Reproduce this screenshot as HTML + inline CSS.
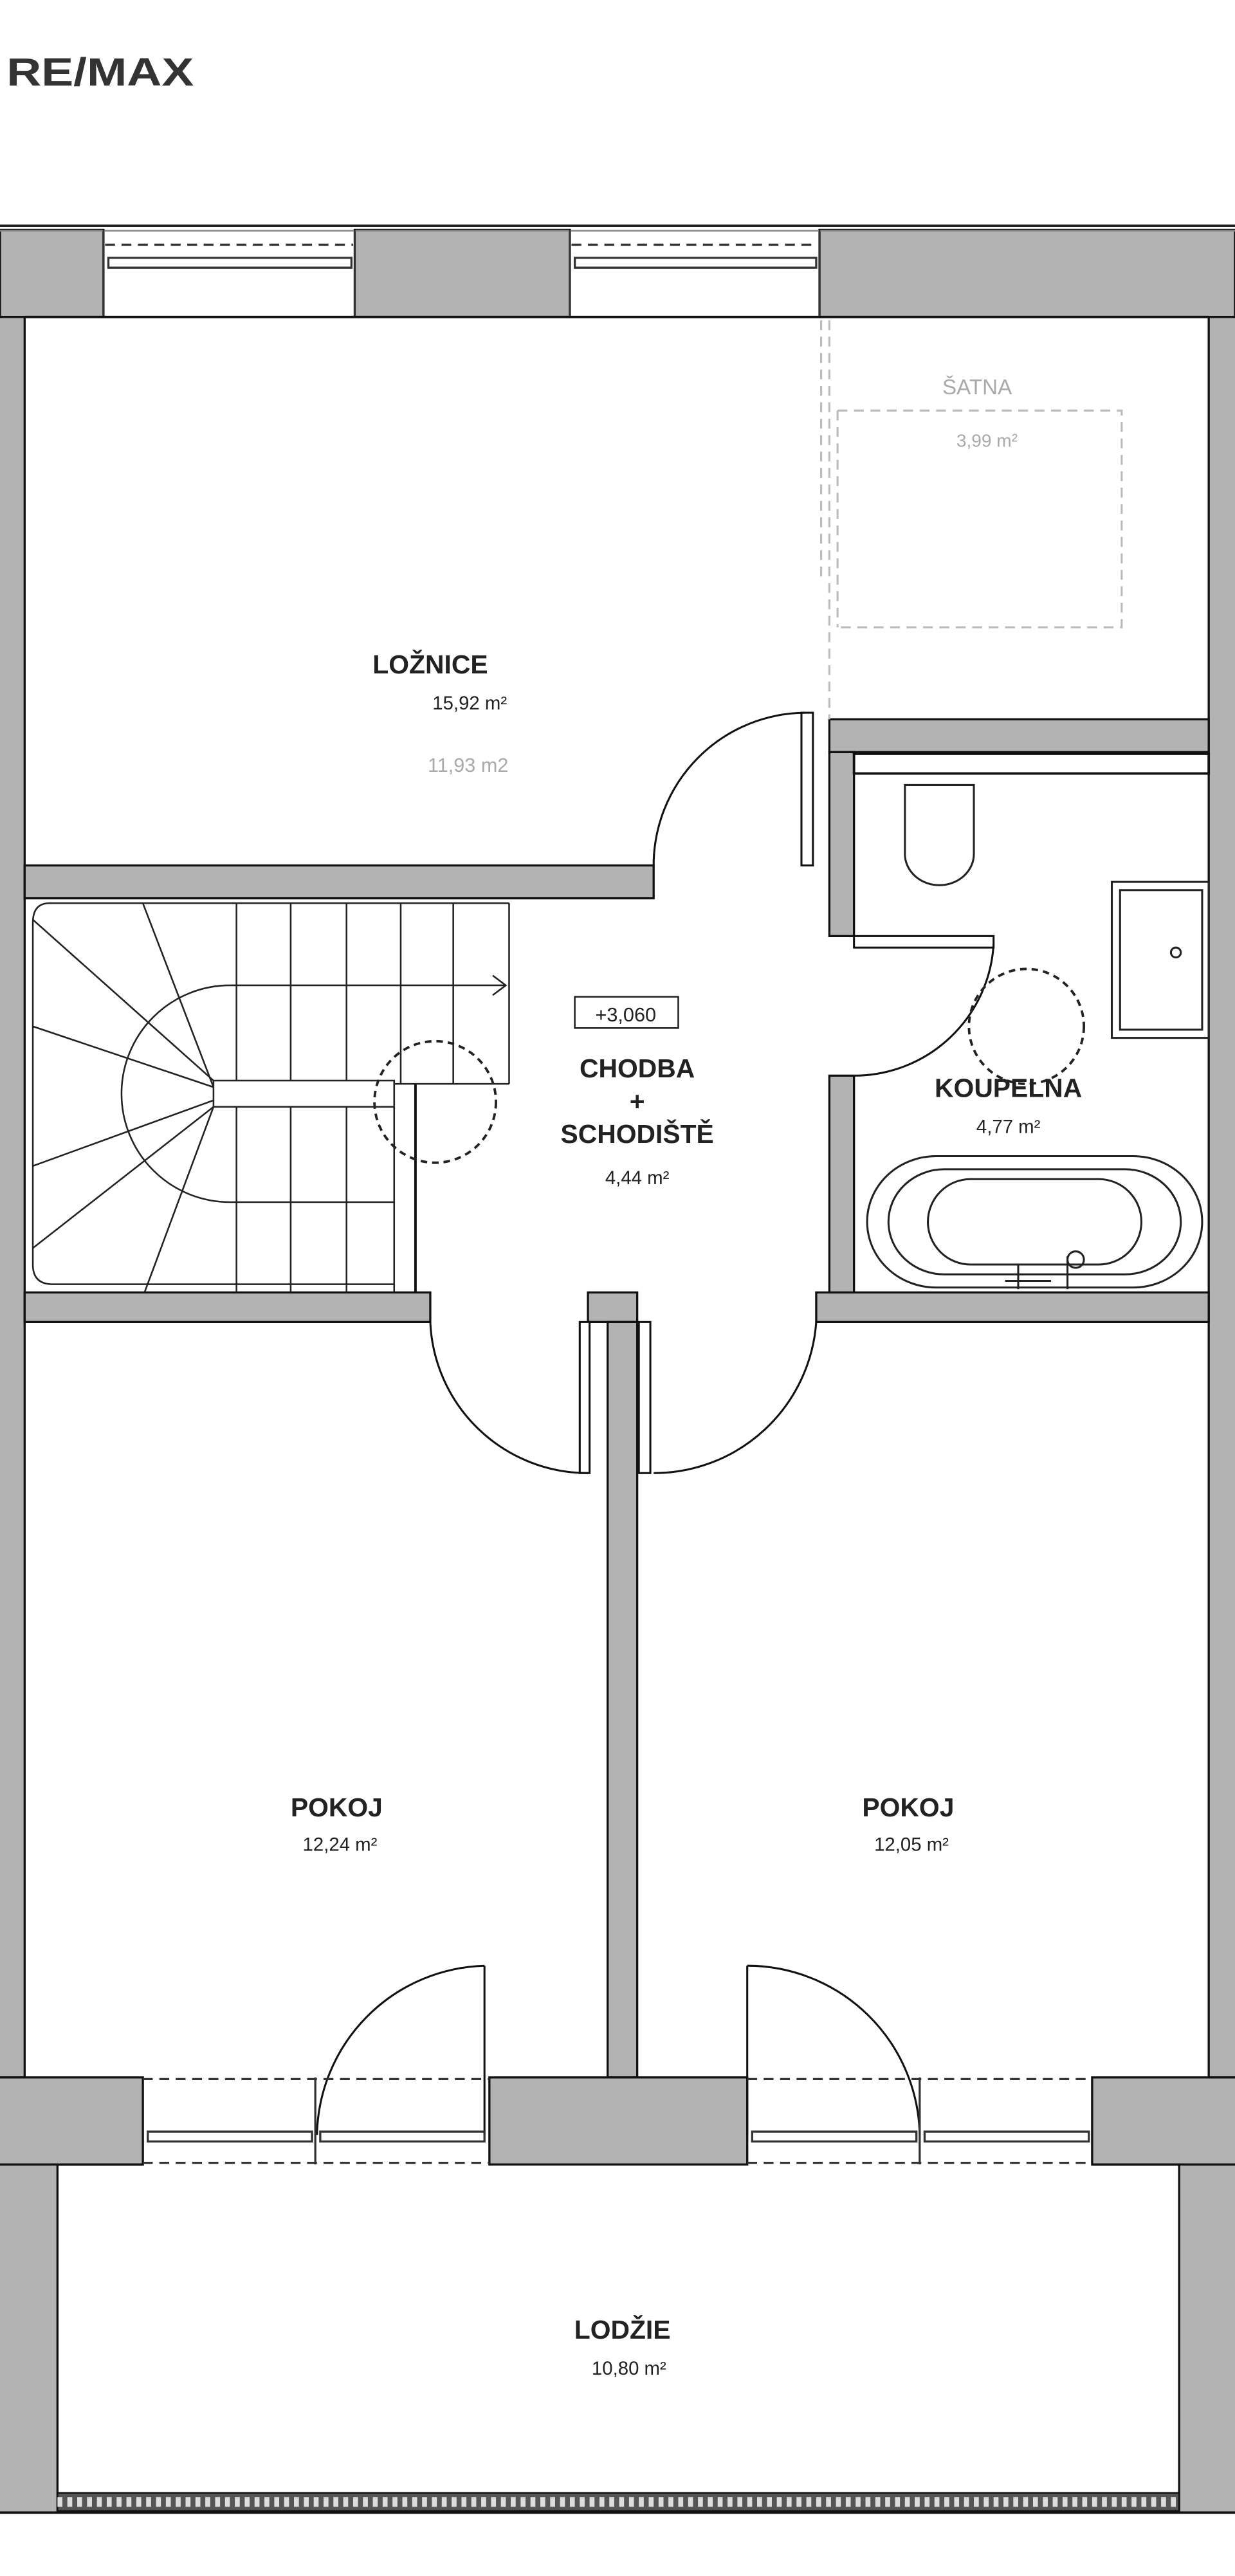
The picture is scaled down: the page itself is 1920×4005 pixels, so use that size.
<!DOCTYPE html>
<html><head><meta charset="utf-8"><style>
html,body{margin:0;padding:0;background:#fff}
svg{display:block}
text{font-family:"Liberation Sans",sans-serif}
</style></head><body>
<svg width="1920" height="4005" viewBox="0 0 752 1568.6" preserveAspectRatio="none" xmlns="http://www.w3.org/2000/svg">
<rect x="0" y="0" width="752" height="1568.6" fill="#fff"/>
<text x="4" y="52" font-size="24" font-weight="bold" fill="#333" textLength="114" lengthAdjust="spacingAndGlyphs">RE/MAX</text>

<g fill="#b3b3b3" stroke="#111" stroke-width="1.3">
<rect x="0" y="140" width="63" height="53"/>
<rect x="216" y="140" width="131" height="53"/>
<rect x="499" y="140" width="253" height="53"/>
<rect x="-2" y="193" width="17" height="1072"/>
<rect x="736" y="193" width="18" height="1072"/>
<rect x="15" y="527" width="383" height="20"/>
<rect x="15" y="787" width="247" height="18"/>
<rect x="358" y="787" width="30" height="18"/>
<rect x="497" y="787" width="239" height="18"/>
<rect x="370" y="805" width="18" height="460"/>
<rect x="505" y="438" width="231" height="20"/>
<rect x="505" y="458" width="15" height="112"/>
<rect x="505" y="655" width="15" height="132"/>
<rect x="-2" y="1265" width="89" height="53"/>
<rect x="298" y="1265" width="157" height="53"/>
<rect x="665" y="1265" width="89" height="53"/>
<rect x="-2" y="1318" width="37" height="212"/>
<rect x="718" y="1318" width="36" height="212"/>
</g>
<line x1="0" y1="137.5" x2="752" y2="137.5" stroke="#222" stroke-width="1.5"/>
<line x1="0" y1="140.5" x2="752" y2="140.5" stroke="#888" stroke-width="1"/>
<g stroke="#333" fill="none">
<line x1="64" y1="149" x2="215" y2="149" stroke-dasharray="6,4" stroke-width="1.3"/>
<line x1="348" y1="149" x2="498" y2="149" stroke-dasharray="6,4" stroke-width="1.3"/>
<rect x="66" y="157" width="148" height="6" stroke-width="1.3"/>
<rect x="350" y="157" width="147" height="6" stroke-width="1.3"/>
<line x1="63" y1="140" x2="63" y2="193"/><line x1="216" y1="140" x2="216" y2="193"/>
<line x1="347" y1="140" x2="347" y2="193"/><line x1="499" y1="140" x2="499" y2="193"/>
</g>

<g fill="none" stroke="#111" stroke-width="1.5">
<line x1="15" y1="193" x2="736" y2="193"/>
<rect x="520" y="459" width="216" height="12" fill="#fff"/>
<line x1="253" y1="660" x2="253" y2="787"/>
</g>

<g fill="none" stroke="#bbb" stroke-width="1.2" stroke-dasharray="6,4">
<line x1="500" y1="195" x2="500" y2="352"/>
<line x1="505" y1="195" x2="505" y2="438"/>
<polyline points="510,250 683,250 683,382 510,382"/>
<line x1="510" y1="250" x2="510" y2="382"/>
</g>
<text x="595" y="240" font-size="13" fill="#aaa" text-anchor="middle">ŠATNA</text>
<text x="601" y="272" font-size="11" fill="#aaa" text-anchor="middle">3,99 m²</text>

<text x="262" y="410" font-size="16" font-weight="bold" fill="#222" text-anchor="middle">LOŽNICE</text>
<text x="286" y="432" font-size="11.5" fill="#222" text-anchor="middle">15,92 m²</text>
<text x="285" y="470" font-size="12" fill="#aaa" text-anchor="middle">11,93 m2</text>

<g fill="none" stroke="#111" stroke-width="1.2">
<rect x="488" y="434" width="7" height="93" fill="#fff"/>
<path d="M490,434 A93,93 0 0 0 398,527"/>
<rect x="520" y="570" width="85" height="7" fill="#fff"/>
<path d="M605,575 A85,85 0 0 1 520,655"/>
<rect x="353" y="805" width="6" height="92" fill="#fff"/>
<path d="M262,805 A96,96 0 0 0 358,897"/>
<rect x="389" y="805" width="7" height="92" fill="#fff"/>
<path d="M497,805 A99,99 0 0 1 398,897"/>
<line x1="295" y1="1197" x2="295" y2="1300"/>
<path d="M295,1197 A105,105 0 0 0 193,1300"/>
<line x1="455" y1="1197" x2="455" y2="1300"/>
<path d="M455,1197 A105,105 0 0 1 560,1300"/>
</g>

<g fill="none" stroke="#222" stroke-width="1">
<path d="M310,550 L30,550 Q20,550 20,562 L20,770 Q20,782 32,782 L240,782"/>
<line x1="310" y1="550" x2="310" y2="660"/>
<line x1="240" y1="660" x2="310" y2="660"/>
<line x1="240" y1="660" x2="240" y2="787"/>
<line x1="144" y1="550" x2="144" y2="787"/><line x1="177" y1="550" x2="177" y2="787"/>
<line x1="211" y1="550" x2="211" y2="787"/><line x1="244" y1="550" x2="244" y2="660"/><line x1="276" y1="550" x2="276" y2="660"/>
<path d="M308,600 L140,600 A66,66 0 0 0 140,732 L240,732"/>
<path d="M300,594 L308,600 L300,606"/>
<rect x="130" y="658" width="110" height="16" fill="#fff"/>
<line x1="130" y1="658" x2="20" y2="560"/><line x1="130" y1="662" x2="87" y2="550"/>
<line x1="130" y1="662" x2="20" y2="625"/><line x1="130" y1="670" x2="20" y2="710"/>
<line x1="130" y1="674" x2="20" y2="760"/><line x1="130" y1="674" x2="88" y2="787"/>
<circle cx="265" cy="671" r="37" stroke-dasharray="4,3" stroke-width="1.5"/>
</g>

<rect x="350" y="607" width="63" height="19" fill="none" stroke="#222" stroke-width="1"/>
<text x="381" y="622" font-size="12" fill="#222" text-anchor="middle">+3,060</text>
<g font-size="16" font-weight="bold" fill="#222" text-anchor="middle">
<text x="388" y="656">CHODBA</text>
<text x="388" y="676">+</text>
<text x="388" y="696">SCHODIŠTĚ</text>
</g>
<text x="388" y="721" font-size="11.5" fill="#222" text-anchor="middle">4,44 m²</text>

<g fill="none" stroke="#222" stroke-width="1.2">
<path d="M551,478 L593,478 L593,520 A21,19 0 0 1 551,520 Z"/>
<rect x="677" y="537" width="59" height="95"/>
<rect x="682" y="542" width="50" height="85"/>
<circle cx="716" cy="580" r="3"/>
<path d="M570,704 L690,704 A42,40 0 0 1 690,784 L570,784 A42,40 0 0 1 570,704 Z"/>
<path d="M575,712 L685,712 A34,32 0 0 1 685,776 L575,776 A34,32 0 0 1 575,712 Z"/>
<rect x="565" y="718" width="130" height="52" rx="26"/>
<circle cx="625" cy="625" r="35" stroke-dasharray="4,3" stroke-width="1.5"/>
<path d="M620,770 L620,785 M612,780 L640,780 M650,765 L650,785"/>
<circle cx="655" cy="767" r="5"/>
</g>
<text x="614" y="668" font-size="16" font-weight="bold" fill="#222" text-anchor="middle">KOUPELNA</text>
<text x="614" y="690" font-size="11.5" fill="#222" text-anchor="middle">4,77 m²</text>

<text x="205" y="1106" font-size="16" font-weight="bold" fill="#222" text-anchor="middle">POKOJ</text>
<text x="207" y="1127" font-size="11.5" fill="#222" text-anchor="middle">12,24 m²</text>
<text x="553" y="1106" font-size="16" font-weight="bold" fill="#222" text-anchor="middle">POKOJ</text>
<text x="555" y="1127" font-size="11.5" fill="#222" text-anchor="middle">12,05 m²</text>

<g stroke="#333" fill="none" stroke-width="1.3">
<line x1="87" y1="1266" x2="298" y2="1266" stroke-dasharray="6,4"/>
<line x1="87" y1="1317" x2="298" y2="1317" stroke-dasharray="6,4"/>
<line x1="455" y1="1266" x2="665" y2="1266" stroke-dasharray="6,4"/>
<line x1="455" y1="1317" x2="665" y2="1317" stroke-dasharray="6,4"/>
<rect x="90" y="1298" width="100" height="6"/><rect x="195" y="1298" width="100" height="6"/>
<rect x="458" y="1298" width="100" height="6"/><rect x="563" y="1298" width="100" height="6"/>
<line x1="192" y1="1265" x2="192" y2="1318"/><line x1="560" y1="1265" x2="560" y2="1318"/>
</g>

<line x1="35" y1="1318" x2="87" y2="1318" stroke="#111" stroke-width="1.3"/>
<line x1="665" y1="1318" x2="718" y2="1318" stroke="#111" stroke-width="1.3"/>
<rect x="35" y="1518" width="683" height="11" fill="#555" stroke="#111"/>
<line x1="35" y1="1523.5" x2="718" y2="1523.5" stroke="#ddd" stroke-width="6" stroke-dasharray="3,3"/>
<line x1="0" y1="1530" x2="752" y2="1530" stroke="#111" stroke-width="1.5"/>
<text x="379" y="1424" font-size="16" font-weight="bold" fill="#222" text-anchor="middle">LODŽIE</text>
<text x="383" y="1446" font-size="11.5" fill="#222" text-anchor="middle">10,80 m²</text>
</svg>
</body></html>
